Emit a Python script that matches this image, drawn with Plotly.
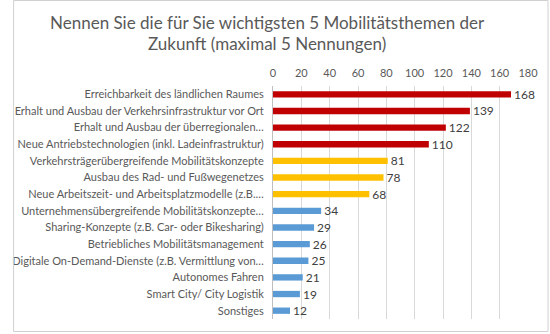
import plotly.graph_objects as go

# Survey results: most important mobility topics (max. 5 answers)
themen = [
    "Erreichbarkeit des ländlichen Raumes",
    "Erhalt und Ausbau der Verkehrsinfrastruktur vor Ort",
    "Erhalt und Ausbau der überregionalen…",
    "Neue Antriebstechnologien (inkl. Ladeinfrastruktur)",
    "Verkehrsträgerübergreifende Mobilitätskonzepte",
    "Ausbau des Rad- und Fußwegenetzes",
    "Neue Arbeitszeit- und Arbeitsplatzmodelle (z.B.…",
    "Unternehmensübergreifende Mobilitätskonzepte…",
    "Sharing-Konzepte (z.B. Car- oder Bikesharing)",
    "Betriebliches Mobilitätsmanagement",
    "Digitale On-Demand-Dienste (z.B. Vermittlung von…",
    "Autonomes Fahren",
    "Smart City/ City Logistik",
    "Sonstiges",
]
nennungen = [168, 139, 122, 110, 81, 78, 68, 34, 29, 26, 25, 21, 19, 12]
gruppe = ["hoch"] * 4 + ["mittel"] * 3 + ["niedrig"] * 7
farben = {"hoch": "#C00000", "mittel": "#FFC000", "niedrig": "#5B9BD5"}
x_ticks = list(range(0, 181, 20))
titel = ["Nennen Sie die für Sie wichtigsten 5 Mobilitätsthemen der",
         "Zukunft (maximal 5 Nennungen)"]

W, H = 550, 334
ml, mr, mt, mb = 267, 22, 86, 15
pw, ph = W - ml - mr, H - mt - mb


def px_x(x):
    return (x - ml) / pw


def px_y(y):
    return (H - mb - y) / ph


fig = go.Figure(
    go.Bar(
        x=nennungen,
        y=themen,
        orientation="h",
        marker=dict(color=[farben[g] for g in gruppe], line_width=0),
        text=nennungen,
        textposition="outside",
        constraintext="none",
        textfont=dict(family="Lato", size=12, color="#404040"),
        cliponaxis=False,
        hoverinfo="x+y",
    )
)

fig.update_layout(
    width=W,
    height=H,
    margin=dict(l=ml, r=mr, t=mt, b=mb, pad=0),
    paper_bgcolor="white",
    plot_bgcolor="white",
    bargap=0.62,
    showlegend=False,
    xaxis=dict(
        side="top",
        range=[0, 180],
        tickvals=x_ticks,
        showgrid=True,
        gridcolor="#D9D9D9",
        gridwidth=1,
        zeroline=False,
        showline=False,
        ticks="",
        tickfont=dict(family="Lato", size=11, color="#595959"),
        ticklabelstandoff=6,
    ),
    yaxis=dict(
        autorange="reversed",
        showline=True,
        linecolor="#BFBFBF",
        linewidth=1,
        ticks="",
        showgrid=False,
        tickfont=dict(family="Lato", size=11, color="#595959"),
        ticklabelstandoff=6,
    ),
)

# Two-line chart title
for zeile, y_px in zip(titel, [22, 44]):
    fig.add_annotation(
        text=zeile,
        xref="paper",
        yref="paper",
        x=px_x(261),
        y=px_y(y_px),
        xanchor="center",
        yanchor="middle",
        showarrow=False,
        font=dict(family="Lato", size=17, color="#595959"),
    )

# Light frame around the whole chart area
fig.add_shape(
    type="rect",
    xref="paper",
    yref="paper",
    x0=px_x(1.5),
    x1=px_x(W - 1.5),
    y0=px_y(H - 2.5),
    y1=px_y(0.5),
    line=dict(color="#D0D0D0", width=1),
    fillcolor="rgba(0,0,0,0)",
    layer="above",
)

fig.write_html("out.html")
